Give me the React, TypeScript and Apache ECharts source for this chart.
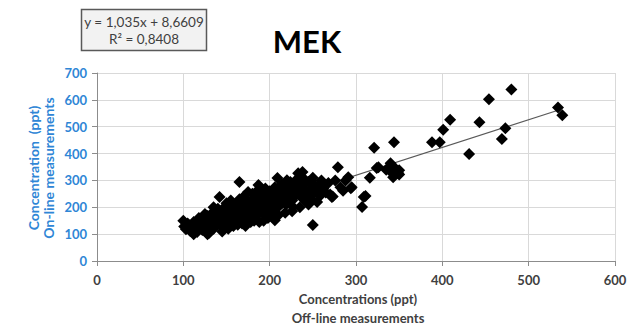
import React, { useEffect, useRef } from "react";
import * as echarts from "echarts";

const chartTitle = "MEK";
const equationLines = ["y = 1,035x + 8,6609", "R² = 0,8408"];
const slope = 1.035;
const intercept = 8.6609;
const trendRange = [100, 535];
const xTicks = [0, 600, 100];
const yTicks = [0, 700, 100];
const xNameLines = ["Concentrations (ppt)", "Off-line measurements"];
const yNameLines = ["Concentration  (ppt)", "On-line measurements"];

const cluster1: number[][] = [
  [100, 150], [101, 128], [103, 118], [105, 140], [107, 132], [108, 112], [110, 125], [112, 145],
  [113, 118], [115, 135], [116, 108], [118, 140], [119, 122], [120, 150], [121, 130],
  [122, 115], [123, 160], [125, 138], [126, 148], [127, 125], [128, 168], [129, 142], [130, 105],
  [131, 155], [132, 130], [133, 178], [134, 145], [135, 120], [136, 160], [137, 138], [138, 185],
  [139, 150], [140, 168],
];
const cluster2: number[][] = [
  [141, 140], [142, 238], [143, 175], [144, 155], [145, 192], [146, 162], [147, 148], [148, 180],
  [149, 170], [150, 158], [151, 200], [152, 145], [153, 185], [154, 165], [155, 175], [156, 150],
  [157, 195], [158, 168], [159, 180], [160, 160],
  [161, 190], [162, 172], [163, 155], [164, 210], [165, 294], [166, 178], [167, 165], [168, 200],
  [169, 185], [170, 150], [171, 215], [172, 175], [173, 195], [174, 160], [175, 257], [176, 188],
  [177, 205], [178, 170], [179, 225], [180, 182],
];
const cluster3: number[][] = [
  [181, 195], [182, 210], [183, 168], [184, 230], [185, 185], [186, 200], [187, 283], [188, 178],
  [189, 215], [190, 192], [191, 240], [192, 205], [193, 175], [194, 220], [195, 198], [196, 235],
  [197, 210], [198, 188], [199, 250], [200, 215],
  [201, 228], [202, 200], [203, 245], [204, 218], [205, 190], [206, 152], [207, 232], [208, 260],
  [209, 309], [210, 222], [211, 205], [212, 270], [213, 240], [214, 215], [215, 255], [216, 230],
  [217, 280], [218, 245], [219, 210], [220, 301],
];
const cluster4: number[][] = [
  [222, 235], [223, 260], [224, 294], [225, 250], [226, 225], [227, 201], [228, 275], [229, 240],
  [230, 262], [231, 290], [233, 327], [234, 255], [235, 312], [236, 245], [237, 270], [238, 331],
  [239, 230], [240, 285],
  [242, 258], [244, 240], [245, 295], [247, 234], [248, 268], [250, 134], [251, 250], [253, 280],
  [254, 262], [256, 264], [258, 283], [259, 245],
  [262, 270], [265, 255], [268, 290], [270, 248], [272, 238], [273, 240], [276, 300], [279, 349],
  [282, 275], [285, 262], [288, 300], [291, 312], [294, 271], [295, 275],
];
const cluster5: number[][] = [
  [307, 201], [309, 238], [311, 242], [316, 310], [321, 422], [324, 346], [326, 349], [335, 340],
  [340, 364], [342, 327], [343, 312], [344, 442], [345, 346], [349, 327], [350, 338], [350, 322],
  [388, 442], [397, 442], [401, 489], [409, 526], [431, 398], [443, 517], [454, 602], [469, 454],
  [473, 494], [480, 639], [534, 572], [539, 543],
];
const cluster6: number[][] = [
  [112, 100], [118, 160], [125, 175], [128, 100], [135, 200], [140, 195], [145, 130], [145, 110],
  [150, 215], [152, 120], [155, 225], [158, 130], [160, 205], [163, 135], [165, 230], [168, 140],
  [170, 240], [172, 130], [175, 220], [178, 145], [180, 250], [182, 150], [185, 260], [188, 145],
  [190, 265], [193, 150], [195, 270], [198, 160], [200, 260], [203, 165], [206, 275], [210, 170],
  [214, 285], [218, 180], [222, 290], [226, 185], [230, 300], [235, 200], [240, 305], [245, 210],
  [250, 310], [255, 220], [260, 300],
];

const points = [...cluster1, ...cluster2, ...cluster3, ...cluster4, ...cluster5, ...cluster6];

export default function App() {
  const ref = useRef<HTMLDivElement>(null);
  useEffect(() => {
    if (!ref.current) return;
    const chart = echarts.init(ref.current, undefined, { renderer: "svg" });
    const font = "Lato, 'Open Sans', sans-serif";
    const trend = trendRange.map((x) => [x, slope * x + intercept]);
    chart.setOption({
      animation: false,
      backgroundColor: "#ffffff",
      grid: { left: 97, right: 15, top: 73, bottom: 68, containLabel: false },
      xAxis: {
        type: "value",
        min: xTicks[0],
        max: xTicks[1],
        interval: xTicks[2],
        axisLine: { show: true, lineStyle: { color: "#8c8c8c", width: 1 } },
        axisTick: { show: true, inside: false, length: 5, lineStyle: { color: "#8c8c8c" } },
        splitLine: { show: true, lineStyle: { color: "#d9d9d9", width: 1 } },
        axisLabel: { color: "#404040", fontFamily: font, fontWeight: "bold", fontSize: 13, margin: 12 },
      },
      yAxis: {
        type: "value",
        min: yTicks[0],
        max: yTicks[1],
        interval: yTicks[2],
        axisLine: { show: true, lineStyle: { color: "#8c8c8c", width: 1 } },
        axisTick: { show: true, inside: false, length: 5, lineStyle: { color: "#8c8c8c" } },
        splitLine: { show: true, lineStyle: { color: "#d9d9d9", width: 1 } },
        axisLabel: { color: "#2f86d6", fontFamily: font, fontWeight: "bold", fontSize: 13, margin: 10 },
      },
      series: [
        {
          type: "line",
          data: trend,
          showSymbol: false,
          symbol: "none",
          lineStyle: { color: "#595959", width: 1.2 },
          z: 2,
        },
        {
          type: "scatter",
          data: points,
          symbol: "diamond",
          symbolSize: 12,
          itemStyle: { color: "#000000", opacity: 1 },
          z: 3,
        },
      ],
      graphic: [
        {
          type: "rect",
          shape: { x: 81.5, y: 9.5, width: 125, height: 41 },
          style: { fill: "#f2f2f2", stroke: "#595959", lineWidth: 1.5 },
        },
        {
          type: "text",
          x: 144,
          y: 22,
          style: {
            text: equationLines[0],
            fill: "#404040",
            font: `13.5px ${font}`,
            align: "center",
            verticalAlign: "middle",
          },
        },
        {
          type: "text",
          x: 144,
          y: 39,
          style: {
            text: equationLines[1],
            fill: "#404040",
            font: `13.5px ${font}`,
            align: "center",
            verticalAlign: "middle",
          },
        },
        {
          type: "text",
          x: 307,
          y: 41,
          style: {
            text: chartTitle,
            fill: "#000000",
            font: `bold 31px ${font}`,
            align: "center",
            verticalAlign: "middle",
          },
        },
        {
          type: "text",
          x: 358,
          y: 299,
          style: {
            text: xNameLines[0],
            fill: "#404040",
            font: `bold 13px ${font}`,
            align: "center",
            verticalAlign: "middle",
          },
        },
        {
          type: "text",
          x: 358,
          y: 318,
          style: {
            text: xNameLines[1],
            fill: "#404040",
            font: `bold 13px ${font}`,
            align: "center",
            verticalAlign: "middle",
          },
        },
        {
          type: "text",
          x: 33,
          y: 168,
          rotation: Math.PI / 2,
          style: {
            text: yNameLines[0],
            fill: "#2f86d6",
            font: `bold 14px ${font}`,
            align: "center",
            verticalAlign: "middle",
          },
        },
        {
          type: "text",
          x: 48,
          y: 168,
          rotation: Math.PI / 2,
          style: {
            text: yNameLines[1],
            fill: "#2f86d6",
            font: `bold 14px ${font}`,
            align: "center",
            verticalAlign: "middle",
          },
        },
      ],
    });
    return () => chart.dispose();
  }, []);
  return <div ref={ref} style={{ width: 630, height: 329, position: "absolute", left: 0, top: 0 }} />;
}
